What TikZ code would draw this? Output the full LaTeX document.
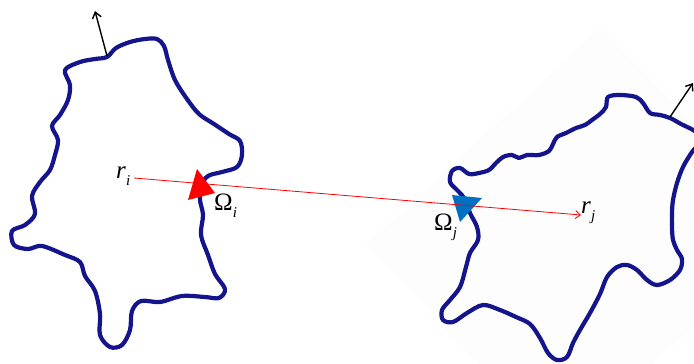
\documentclass[tikz,border=0pt]{standalone}
\usepackage{fontspec}
\setmainfont{Liberation Serif}
\usetikzlibrary{arrows.meta}
\newcommand\lblfont{\fontsize{25}{28}\selectfont}
\newcommand\subfont{\fontsize{15}{17}\selectfont}
\newcommand\lblsub[1]{\raisebox{-7pt}{\subfont\textit{#1}}}
\begin{document}
\begin{tikzpicture}[x=1pt,y=-1pt,
  blob/.style={draw=blobblue,line width=4.2pt,line join=round,smooth cycle,tension=0.55},
  normal/.style={draw=black,line width=1.4pt,-{Straight Barb[length=6pt,width=9pt,line width=1.4pt]}},
  lbl/.style={font=\lblfont,inner sep=0pt,anchor=base west}]
\definecolor{blobblue}{RGB}{20,20,140}
\definecolor{trired}{RGB}{255,0,0}
\definecolor{triblue}{RGB}{0,112,192}
\definecolor{bgfaint}{RGB}{253,253,253}
\useasboundingbox (0,0) rectangle (694,364);
\clip (0,0) rectangle (694,364);
% faint rotated background square
\fill[bgfaint] (365,245) -- (600,27) -- (800,230) -- (560,450) -- cycle;
% left blob
\draw[blob] plot coordinates {
 (107,57) (116,48) (130,42) (145,39) (157,39) (164,46) (168,60) (175,80) (187,99)
 (199,114) (214,124) (229,134) (240,141) (242,155) (237,167) (222,172) (208,176)
 (201,186) (200,200) (203,215) (201,235) (208,255) (215,274) (225,289) (219,298)
 (205,297) (182,296) (160,302) (141,301) (132,311) (130,330) (122,345) (110,347)
 (100,335) (100,314) (95,291) (85,276) (80,262) (65,255) (42,246) (28,249)
 (14,245) (12,231) (25,225) (35,214) (32,196) (40,182) (50,170) (55,155)
 (58,140) (52,126) (60,115) (68,100) (70,85) (65,70) (80,62) (95,59)};
% right blob
\draw[blob] plot coordinates {
 (670,118) (660,115) (650,113) (643,103) (636,97) (620,95) (608,97) (606,107)
 (600,114) (592,120) (585,125) (576,128) (566,133) (557,137) (553,144) (549,151)
 (539,155) (527,155) (519,158) (512,155) (503,157) (496,163) (489,170) (479,173)
 (469,174) (460,168) (452,171) (450,182) (457,190) (464,198) (470,213) (477,227)
 (478,240) (470,253) (466,267) (460,287) (450,300) (442,310) (443,320) (453,322)
 (467,313) (483,305) (500,310) (516,317) (530,324) (540,338) (548,353) (557,360)
 (567,357) (573,343) (580,330) (590,313) (600,294) (607,277) (617,267) (627,265)
 (637,270) (647,280) (657,285) (670,280) (680,270) (682,259) (677,250) (673,240)
 (672,227) (672,213) (673,200) (677,183) (683,167) (692,152) (700,142) (696,132)
 (681,124)};
% normals
\coordinate (nib) at (107,56);
\coordinate (nit) at (95,11);
\coordinate (njb) at (670,117);
\coordinate (njt) at (693,83);
\draw[normal] (nib) -- (nit);
\draw[normal] (njb) -- (njt);
% triangles
\fill[trired] (197,169) -- (188,200) -- (215,193) -- cycle;
\fill[triblue] (452,195) -- (482,198) -- (460,222) -- cycle;
% labels
\node[lbl] (ri) at (116,178) {\textit{r}\lblsub{i}};
\node[lbl] (rj) at (581,213) {\textit{r}\lblsub{j}};
\node[lbl] (Oi) at (214,210) {Ω\lblsub{i}};
\node[lbl] (Oj) at (434,230) {Ω\lblsub{j}};
\coordinate (rstart) at (134,178);
\coordinate (rend) at (581,215);
\draw[red,line width=0.8pt,-{Straight Barb[length=5pt,width=8pt,line width=0.8pt]}] (rstart) -- (rend);
\end{tikzpicture}
\end{document}
